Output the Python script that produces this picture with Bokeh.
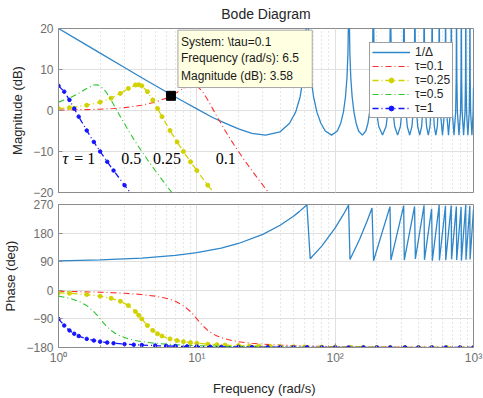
from bokeh.plotting import figure
from bokeh.layouts import column
from bokeh.models import Range1d, FixedTicker, Legend, LegendItem, Label, BoxAnnotation
from bokeh.embed import file_html
from bokeh.resources import INLINE

# ---------------- data ----------------
mag_ticks = [-20, -10, 0, 10, 20]
phase_ticks = [-180, -90, 0, 90, 180, 270]
x_ticks = [1, 10, 100, 1000]
x_tick_labels = ["10\u2070", "10\u00b9", "10\u00b2", "10\u00b3"]

# 1/Delta magnitude
inv_mag_freq = [
    1, 1.5, 2, 3, 4, 5, 6.5, 8, 10, 13, 16, 20, 25, 31.4, 40, 46.8, 51.8, 55.8, 58.8, 60.8, 62.2,
    63.4, 64.8, 66.8, 69.8, 73.8, 78.8, 84.8, 94.2, 103.7, 109.7, 114.7, 118.7, 121.7, 123.7, 125.1,
    126.3, 127.7, 129.7, 132.7, 136.7, 141.7, 147.7, 157.1, 166.5, 172.5, 177.5, 181.5, 184.5, 186.5, 187.9,
    189.1, 192.5, 199.5, 206.5, 219.9, 233.3, 240.3, 247.3, 250.7,
    251.9, 255.3, 262.3, 269.3, 282.7, 296.1, 303.1, 310.1, 313.5,
    314.8, 318.2, 325.2, 332.2, 345.6, 359.0, 366.0, 373.0, 376.4,
    377.6, 381.0, 388.0, 395.0, 408.4, 421.8, 428.8, 435.8, 439.2,
    440.4, 443.8, 450.8, 457.8, 471.2, 484.6, 491.6, 498.6, 502.0,
    503.3, 506.7, 513.7, 520.7, 534.1, 547.5, 554.5, 561.5, 564.9,
    566.1, 569.5, 576.5, 596.9, 617.3, 624.3, 627.7,
    628.9, 632.3, 639.3, 659.7, 680.1, 687.1, 690.5,
    691.8, 695.2, 702.2, 722.6, 743.0, 750.0, 753.4,
    754.6, 758.0, 765.0, 785.4, 805.8, 812.8, 816.2,
    817.4, 820.8, 827.8, 848.2, 868.6, 875.6, 879.0,
    880.2, 883.6, 890.6, 911.0, 931.4, 938.4, 941.8,
    943.1, 946.5, 953.5, 973.9, 994.3, 1000,
]
inv_mag_db = [
    20.0, 16.5, 14.0, 10.5, 8.0, 6.1, 3.9, 2.2, 0.4, -1.7, -3.1, -4.5, -5.6, -6.0, -5.2, -3.1, -0.4, 3.3, 8.0, 14.0, 24.4,
    24.4, 14.0, 8.0, 3.3, -0.4, -3.1, -5.0, -6.0, -5.0, -3.1, -0.4, 3.3, 8.0, 14.0, 24.4,
    24.4, 14.0, 8.0, 3.3, -0.4, -3.1, -5.0, -6.0, -5.0, -3.1, -0.4, 3.3, 8.0, 14.0, 24.4,
    24.4, 8.0, -0.4, -3.9, -6.0, -3.9, -0.4, 8.0, 24.4,
    24.4, 8.0, -0.4, -3.9, -6.0, -3.9, -0.4, 8.0, 24.4,
    24.4, 8.0, -0.4, -3.9, -6.0, -3.9, -0.4, 8.0, 24.4,
    24.4, 8.0, -0.4, -3.9, -6.0, -3.9, -0.4, 8.0, 24.4,
    24.4, 8.0, -0.4, -3.9, -6.0, -3.9, -0.4, 8.0, 24.4,
    24.4, 8.0, -0.4, -3.9, -6.0, -3.9, -0.4, 8.0, 24.4,
    24.4, 8.0, -0.4, -6.0, -0.4, 8.0, 24.4,
    24.4, 8.0, -0.4, -6.0, -0.4, 8.0, 24.4,
    24.4, 8.0, -0.4, -6.0, -0.4, 8.0, 24.4,
    24.4, 8.0, -0.4, -6.0, -0.4, 8.0, 24.4,
    24.4, 8.0, -0.4, -6.0, -0.4, 8.0, 24.4,
    24.4, 8.0, -0.4, -6.0, -0.4, 8.0, 24.4,
    24.4, 8.0, -0.4, -6.0, -0.4, 5.6,
]

# 1/Delta phase
inv_ph_freq = [
    1, 2, 4, 7, 10, 15, 20, 30, 40, 50, 55, 60, 62.5,
    66, 80, 100, 115, 125,
    128, 150, 170, 184.6,
    189.5, 249, 253, 313, 316, 375, 380, 439, 442, 498, 504, 565,
    567, 627, 630, 690, 694, 752, 756, 814, 818, 879, 882, 941, 945, 1000,
]
inv_ph_deg = [
    92.9, 95.7, 101.5, 110.1, 118.6, 133.0, 147.3, 175.9, 204.6, 233.2, 247.6, 261.9, 269.0,
    99.1, 139.2, 196.5, 239.5, 268.2,
    96.7, 159.7, 217.0, 258.8,
    92.9, 263.4, 95.0, 266.6, 95.1, 264.0, 98.6, 267.7, 96.0, 256.5, 93.4, 268.6,
    94.3, 266.0, 94.9, 266.6, 98.0, 264.0, 95.7, 262.0, 93.4, 268.3, 96.3, 265.7, 97.2, 254.7,
]

# tau = 0.1
red_freq = [1, 2, 2.5, 3, 4, 5, 6, 6.5, 7, 8, 9, 9.5, 10, 11, 12, 13, 14, 16, 18, 20,
            22.5, 25, 30, 35, 40, 50, 60, 70, 85, 100, 125, 150, 200, 250, 325, 400, 500, 625, 800, 1000]
red_mag = [0.08, 0.31, 0.48, 0.70, 1.28, 2.04, 3.01, 3.58, 4.17, 5.38, 6.22, 6.29, 6.02, 4.60, 2.57, 0.46,
           -1.50, -4.88, -7.66, -10.00, -12.50, -14.64, -18.21, -21.13, -23.60, -27.65, -30.91, -33.65,
           -37.07, -39.92, -43.83, -47.00, -52.02, -55.90, -60.47, -64.08, -67.96, -71.83, -76.12, -80.00]
red_phase = [-2.9, -6.0, -7.6, -9.4, -13.4, -18.4, -25.1, -29.4, -34.5, -48.0, -67.1, -78.4, -90.0,
             -110.9, -126.3, -136.7, -143.9, -152.9, -158.1, -161.6, -164.5, -166.6, -169.4, -171.2,
             -172.4, -174.0, -175.1, -175.8, -176.6, -177.1, -177.7, -178.1, -178.6, -178.9, -179.1,
             -179.3, -179.4, -179.5, -179.6, -179.7]

# tau = 0.25
yel_freq = [1, 1.2, 1.6, 2, 2.4, 2.8, 3.2, 3.6, 3.8, 4, 4.4, 4.8, 5.2, 5.6, 6.4, 7.2, 8, 9, 10, 12, 14,
            16, 20, 24, 28, 34, 40, 50, 60, 80, 100, 130, 160, 200, 250, 320, 400, 500, 640, 800, 1000]
yel_mag = [0.48, 0.70, 1.28, 2.04, 3.01, 4.17, 5.38, 6.22, 6.29, 6.02, 4.60, 2.57, 0.46, -1.50, -4.88,
           -7.66, -10.00, -12.50, -14.64, -18.21, -21.13, -23.60, -27.65, -30.91, -33.65, -37.07, -39.92,
           -43.83, -47.00, -52.02, -55.90, -60.47, -64.08, -67.96, -71.83, -76.12, -80.00, -83.88, -88.16,
           -92.04, -95.92]
yel_phase = [-7.6, -9.4, -13.4, -18.4, -25.1, -34.5, -48.0, -67.1, -78.4, -90.0, -110.9, -126.3, -136.7,
             -143.9, -152.9, -158.1, -161.6, -164.5, -166.6, -169.4, -171.2, -172.4, -174.0, -175.1,
             -175.8, -176.6, -177.1, -177.7, -178.1, -178.6, -178.9, -179.1, -179.3, -179.4, -179.5,
             -179.6, -179.7, -179.8, -179.8, -179.9, -179.9]

# tau = 0.5
grn_freq = [1, 1.2, 1.4, 1.6, 1.8, 1.9, 2, 2.2, 2.4, 2.6, 2.8, 3.2, 3.6, 4, 4.5, 5, 6, 7, 8, 10, 12, 14,
            17, 20, 25, 30, 40, 50, 65, 80, 100, 125, 160, 200, 250, 320, 400, 500, 640, 800, 1000]
grn_mag = [2.04, 3.01, 4.17, 5.38, 6.22, 6.29, 6.02, 4.60, 2.57, 0.46, -1.50, -4.88, -7.66, -10.00,
           -12.50, -14.64, -18.21, -21.13, -23.60, -27.65, -30.91, -33.65, -37.07, -39.92, -43.83,
           -47.00, -52.02, -55.90, -60.47, -64.08, -67.96, -71.83, -76.12, -80.00, -83.88, -88.16,
           -92.04, -95.92, -100.2, -104.08, -107.96]
grn_phase = [-18.4, -25.1, -34.5, -48.0, -67.1, -78.4, -90.0, -110.9, -126.3, -136.7, -143.9, -152.9,
             -158.1, -161.6, -164.5, -166.6, -169.4, -171.2, -172.4, -174.0, -175.1, -175.8, -176.6,
             -177.1, -177.7, -178.1, -178.6, -178.9, -179.1, -179.3, -179.4, -179.5, -179.6, -179.7,
             -179.8, -179.8, -179.9, -179.9, -179.9, -179.9, -180.0]

# tau = 1
blu_freq = [1, 1.1, 1.2, 1.3, 1.4, 1.6, 1.8, 2, 2.25, 2.5, 3, 3.5, 4, 5, 6, 7, 8.5, 10, 12.5, 15, 20,
            25, 32.5, 40, 50, 62.5, 80, 100, 125, 160, 200, 250, 320, 400, 500, 630, 800, 1000]
blu_mag = [6.02, 4.60, 2.57, 0.46, -1.50, -4.88, -7.66, -10.00, -12.50, -14.64, -18.21, -21.13, -23.60,
           -27.65, -30.91, -33.65, -37.07, -39.92, -43.83, -47.00, -52.02, -55.90, -60.47, -64.08,
           -67.96, -71.83, -76.12, -80.00, -83.88, -88.16, -92.04, -95.92, -100.2, -104.08, -107.96,
           -111.99, -116.12, -120.0]
blu_phase = [-90.0, -110.9, -126.3, -136.7, -143.9, -152.9, -158.1, -161.6, -164.5, -166.6, -169.4,
             -171.2, -172.4, -174.0, -175.1, -175.8, -176.6, -177.1, -177.7, -178.1, -178.6, -178.9,
             -179.1, -179.3, -179.4, -179.5, -179.6, -179.7, -179.8, -179.8, -179.9, -179.9, -179.9,
             -179.9, -180.0, -180.0, -180.0, -180.0]

legend_labels = ["1/\u0394", "\u03c4=0.1", "\u03c4=0.25", "\u03c4=0.5", "\u03c4=1"]
tip_system = "\\tau=0.1"
tip_freq = 6.5
tip_mag = 3.58
curve_notes = ["0.5", "0.25", "0.1"]

# ---------------- styling ----------------
FONT = "Liberation Sans"
SERIF = "Liberation Serif"
C_INV = "#2f86c9"
C_RED = "#ff2d2d"
C_YEL = "#d2d200"
C_GRN = "#2ec42e"
C_BLU = "#1414ff"
DASHDOT = "6 3 1 3"


def style(p):
    p.background_fill_color = "white"
    p.border_fill_color = "white"
    p.outline_line_color = "#8c8c8c"
    p.outline_line_width = 1
    p.xgrid.grid_line_color = "#e0e0e0"
    p.ygrid.grid_line_color = "#e0e0e0"
    p.xgrid.minor_grid_line_color = "#cccccc"
    p.xgrid.minor_grid_line_dash = "1 3"
    for ax in p.axis:
        ax.major_tick_in = 4
        ax.major_tick_out = 0
        ax.minor_tick_in = 2
        ax.minor_tick_out = 0
        ax.axis_line_color = "#8c8c8c"
        ax.major_tick_line_color = "#8c8c8c"
        ax.minor_tick_line_color = "#8c8c8c"
        ax.major_label_text_font = FONT
        ax.major_label_text_font_size = "12px"
        ax.major_label_text_color = "#6e6e6e"
        ax.axis_label_text_font = FONT
        ax.axis_label_text_font_size = "13px"
        ax.axis_label_text_font_style = "normal"
        ax.axis_label_text_color = "#262626"
    p.yaxis.minor_tick_line_color = None


# ---------------- magnitude panel ----------------
p1 = figure(width=483, height=199, x_axis_type="log", x_range=Range1d(1, 1000),
            y_range=Range1d(-20, 20), output_backend="svg", toolbar_location=None,
            min_border_left=57, min_border_right=10, min_border_top=0, min_border_bottom=7,
            title="Bode Diagram")
p1.title.align = "center"
p1.title.vertical_align = "top"
p1.title.text_font = FONT
p1.title.text_font_size = "14px"
p1.title.text_font_style = "normal"
p1.title.text_color = "#262626"
style(p1)
p1.xaxis.visible = False
p1.yaxis.ticker = FixedTicker(ticks=mag_ticks)
p1.yaxis.axis_label = "Magnitude (dB)"

r_inv = p1.line(inv_mag_freq, inv_mag_db, line_color=C_INV, line_width=1.3)
r_red = p1.line(red_freq, red_mag, line_color=C_RED, line_width=1.1, line_dash=DASHDOT)
r_yel = p1.line(yel_freq, yel_mag, line_color=C_YEL, line_width=1.3, line_dash=DASHDOT)
r_yel_p = p1.scatter(yel_freq, yel_mag, marker="circle", size=4, color=C_YEL)
r_grn = p1.line(grn_freq, grn_mag, line_color=C_GRN, line_width=1.1, line_dash=DASHDOT)
r_blu = p1.line(blu_freq, blu_mag, line_color=C_BLU, line_width=1.3, line_dash=DASHDOT)
r_blu_p = p1.scatter(blu_freq, blu_mag, marker="circle", size=3.5, color=C_BLU)

p1.scatter([tip_freq], [tip_mag], marker="square", size=9, color="black")

tip_box = BoxAnnotation(left=7.3, right=68.3, bottom=5.6, top=19.6,
                        fill_color="#ffffe1", fill_alpha=1.0,
                        line_color="#a6a6a6", line_width=1, line_alpha=1.0)
p1.add_layout(tip_box)
for txt, yy in [("System: " + tip_system, 16.76),
                ("Frequency (rad/s): " + str(tip_freq), 12.69),
                ("Magnitude (dB): " + str(tip_mag), 8.4)]:
    p1.add_layout(Label(x=7.68, y=yy, text=txt, text_font=FONT, text_font_size="12px",
                        text_baseline="middle", text_color="#1a1a1a"))

note_kw = dict(text_font=SERIF, text_font_size="16px", text_baseline="middle", text_color="black")
p1.add_layout(Label(x=1.068, y=-11.8, text="\u03c4", text_font_style="italic", **note_kw))
p1.add_layout(Label(x=1.30, y=-11.8, text="= 1", **note_kw))
for txt, xx in zip(curve_notes, [2.84, 4.83, 13.7]):
    p1.add_layout(Label(x=xx, y=-11.8, text=txt, **note_kw))

legend = Legend(items=[
    LegendItem(label=legend_labels[0], renderers=[r_inv]),
    LegendItem(label=legend_labels[1], renderers=[r_red]),
    LegendItem(label=legend_labels[2], renderers=[r_yel, r_yel_p]),
    LegendItem(label=legend_labels[3], renderers=[r_grn]),
    LegendItem(label=legend_labels[4], renderers=[r_blu, r_blu_p]),
], location=(311, 74))
legend.label_text_font = FONT
legend.label_text_font_size = "12px"
legend.label_text_color = "#262626"
legend.glyph_width = 38
legend.glyph_height = 12
legend.label_height = 12
legend.label_standoff = 5
legend.spacing = 0
legend.padding = 2
legend.margin = 0
legend.border_line_color = "#404040"
legend.border_line_width = 1
legend.background_fill_color = "white"
legend.background_fill_alpha = 1.0
p1.add_layout(legend)

# ---------------- phase panel ----------------
p2 = figure(width=483, height=199, x_axis_type="log", x_range=p1.x_range,
            y_range=Range1d(-180, 270), output_backend="svg", toolbar_location=None,
            min_border_left=57, min_border_right=10, min_border_top=5, min_border_bottom=51)
style(p2)
p2.yaxis.ticker = FixedTicker(ticks=phase_ticks)
p2.yaxis.axis_label = "Phase (deg)"
p2.xaxis.axis_label = "Frequency  (rad/s)"
p2.xaxis.major_label_overrides = {t: s for t, s in zip(x_ticks, x_tick_labels)}
p2.xaxis.major_label_standoff = 3
p2.xaxis.axis_label_standoff = 13

p2.line(inv_ph_freq, inv_ph_deg, line_color=C_INV, line_width=1.3)
p2.line(red_freq, red_phase, line_color=C_RED, line_width=1.1, line_dash=DASHDOT)
p2.line(yel_freq, yel_phase, line_color=C_YEL, line_width=1.3, line_dash=DASHDOT)
p2.scatter(yel_freq, yel_phase, marker="circle", size=4, color=C_YEL)
p2.line(grn_freq, grn_phase, line_color=C_GRN, line_width=1.1, line_dash=DASHDOT)
p2.line(blu_freq, blu_phase, line_color=C_BLU, line_width=1.3, line_dash=DASHDOT)
p2.scatter(blu_freq, blu_phase, marker="circle", size=3.5, color=C_BLU)

layout = column(p1, p2, spacing=0)
open("out.html", "w").write(file_html(layout, INLINE))
